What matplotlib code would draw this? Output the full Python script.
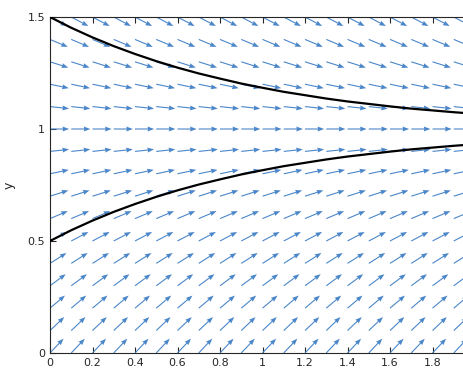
import matplotlib.pyplot as plt
import numpy as np

# grid of the direction field
x_grid = [0.0, 0.1, 0.2, 0.3, 0.4, 0.5, 0.6, 0.7, 0.8, 0.9, 1.0,
          1.1, 1.2, 1.3, 1.4, 1.5, 1.6, 1.7, 1.8, 1.9, 2.0]
y_grid = [0.0, 0.1, 0.2, 0.3, 0.4, 0.5, 0.6, 0.7, 0.8, 0.9, 1.0,
          1.1, 1.2, 1.3, 1.4, 1.5]
# slope (dy per unit dx)
row_slope = [1.0, 0.9, 0.8, 0.7, 0.6, 0.5, 0.4, 0.3, 0.2, 0.1, 0.0,
             -0.1, -0.2, -0.3, -0.4, -0.5]

# the two black solution curves
curve_x = [0.0, 0.1, 0.2, 0.3, 0.4, 0.5, 0.6, 0.7, 0.8, 0.9, 1.0,
           1.1, 1.2, 1.3, 1.4, 1.5, 1.6, 1.7, 1.8, 1.9, 2.0]
lower_y = [0.500, 0.548, 0.591, 0.630, 0.665, 0.697, 0.726, 0.752, 0.775, 0.797, 0.816,
           0.834, 0.849, 0.864, 0.877, 0.888, 0.899, 0.909, 0.917, 0.925, 0.932]
upper_y = [1.500, 1.452, 1.409, 1.370, 1.335, 1.303, 1.274, 1.248, 1.225, 1.203, 1.184,
           1.166, 1.151, 1.136, 1.123, 1.112, 1.101, 1.091, 1.083, 1.075, 1.068]

def main():
    fig = plt.figure(figsize=(4.63, 3.87), dpi=100)
    ax = fig.add_axes([0.108, 0.088, 0.918, 0.868])

    X, Y = np.meshgrid(x_grid, y_grid)
    S = np.array([[s] * len(x_grid) for s in row_slope])
    # unit direction vectors
    n = np.sqrt(1 + S ** 2)
    U = 1 / n
    V = S / n
    ax.quiver(X, Y, U, V, color='#4a86c8', angles='xy', scale_units='xy',
              scale=1 / 0.09, width=0.0026, headwidth=4.5, headlength=6,
              headaxislength=5.5, zorder=2)

    ax.plot(curve_x, lower_y, color='black', lw=1.6, zorder=3)
    ax.plot(curve_x, upper_y, color='black', lw=1.6, zorder=3)

    ax.set_xlim(0, 2)
    ax.set_ylim(0, 1.5)
    ax.set_xticks([0, 0.2, 0.4, 0.6, 0.8, 1, 1.2, 1.4, 1.6, 1.8, 2])
    ax.set_xticklabels(['0', '0.2', '0.4', '0.6', '0.8', '1', '1.2', '1.4', '1.6', '1.8', '2'])
    ax.set_yticks([0, 0.5, 1, 1.5])
    ax.set_yticklabels(['0', '0.5', '1', '1.5'])
    ax.tick_params(direction='in', top=True, right=True, labelsize=8,
                   colors='#262626', length=4, width=0.8)
    for sp in ax.spines.values():
        sp.set_color('#262626')
        sp.set_linewidth(0.8)
    ax.set_xlabel('x', fontsize=9, color='#262626')
    ax.set_ylabel('y', fontsize=9, color='#262626')
    ax.xaxis.set_label_coords(0.5, -0.105)
    ax.yaxis.set_label_coords(-0.082, 0.5)

    plt.savefig('out.png', dpi=100)

main()
